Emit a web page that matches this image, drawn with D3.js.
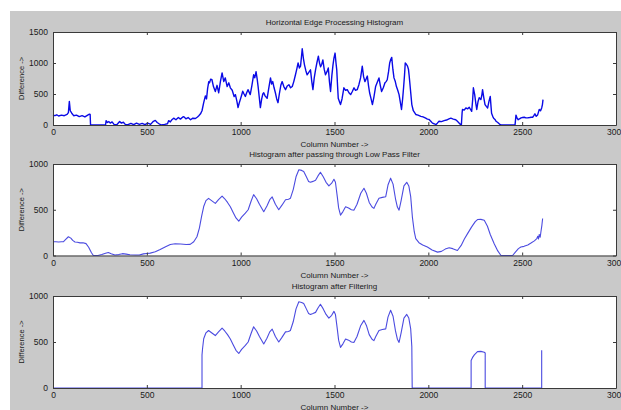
<!DOCTYPE html>
<html>
<head>
<meta charset="utf-8">
<script src="https://cdn.jsdelivr.net/npm/d3@7"></script>
<style>
  body { margin: 0; background: #fff; }
  svg text { font-family: "Liberation Sans", Arial, sans-serif; fill: #1a1a1a; }
</style>
</head>
<body>
<div id="chart"></div>
<script>
// column number, difference
const edgeHist = [[0,160],[10,150],[20,165],[30,145],[45,160],[60,150],[75,170],[82,200],[87,380],[92,230],[100,190],[110,150],[125,160],[140,135],[155,150],[170,130],[185,160],[194,175],[198,170],[200,0],[280,0],[283,70],[290,40],[298,55],[305,30],[315,50],[325,10],[340,5],[355,55],[365,30],[375,45],[385,10],[400,5],[415,25],[430,5],[445,30],[460,10],[475,25],[490,5],[505,30],[520,10],[535,60],[545,75],[555,40],[565,20],[578,0],[595,10],[610,20],[616,70],[625,50],[635,90],[643,110],[655,85],[668,120],[679,95],[690,125],[697,135],[708,100],[720,120],[733,85],[745,110],[759,105],[770,130],[777,150],[786,180],[794,230],[803,360],[812,470],[818,420],[824,590],[830,700],[834,680],[840,740],[847,730],[855,620],[865,540],[874,640],[883,520],[892,700],[901,840],[910,700],[918,760],[928,620],[937,680],[945,600],[955,560],[965,460],[972,490],[980,380],[986,280],[992,350],[998,410],[1005,480],[1011,545],[1018,500],[1025,460],[1032,520],[1039,570],[1045,530],[1051,490],[1060,640],[1069,810],[1075,760],[1082,860],[1088,740],[1093,620],[1100,420],[1105,280],[1112,420],[1118,500],[1123,520],[1130,470],[1141,430],[1150,600],[1159,760],[1165,660],[1171,700],[1178,600],[1185,520],[1192,420],[1199,360],[1207,520],[1214,640],[1221,700],[1230,620],[1239,570],[1248,630],[1257,650],[1266,600],[1275,620],[1283,700],[1292,810],[1299,900],[1306,1000],[1313,920],[1319,950],[1324,1100],[1328,1230],[1334,1080],[1340,970],[1347,880],[1354,810],[1363,850],[1372,890],[1379,700],[1385,570],[1392,760],[1399,890],[1406,1000],[1414,1110],[1420,1000],[1426,940],[1432,980],[1438,1050],[1445,900],[1452,810],[1460,860],[1467,920],[1473,700],[1479,540],[1486,800],[1492,970],[1497,1080],[1503,1160],[1508,1000],[1512,890],[1516,650],[1520,430],[1526,380],[1532,330],[1540,420],[1550,600],[1559,560],[1568,570],[1577,520],[1586,490],[1595,540],[1604,600],[1612,560],[1621,570],[1630,650],[1639,760],[1648,950],[1655,780],[1662,700],[1668,740],[1675,790],[1681,640],[1687,520],[1695,420],[1702,330],[1710,450],[1719,620],[1728,690],[1737,760],[1744,640],[1751,540],[1760,600],[1769,680],[1775,700],[1781,730],[1788,860],[1794,1000],[1800,1060],[1805,1090],[1811,900],[1817,760],[1824,700],[1830,620],[1837,560],[1844,490],[1850,380],[1857,250],[1863,420],[1868,600],[1873,800],[1877,1000],[1883,980],[1889,950],[1894,900],[1898,790],[1905,560],[1912,330],[1920,230],[1933,170],[1945,160],[1960,140],[1972,130],[1986,110],[1995,95],[2004,90],[2013,60],[2022,30],[2031,20],[2040,5],[2048,30],[2057,60],[2070,55],[2084,70],[2097,80],[2110,100],[2120,110],[2133,95],[2146,85],[2155,60],[2164,30],[2173,5],[2176,0],[2180,200],[2182,250],[2191,240],[2200,275],[2209,260],[2218,285],[2225,250],[2231,220],[2236,400],[2240,600],[2247,490],[2253,350],[2258,250],[2265,380],[2271,440],[2280,410],[2285,480],[2289,570],[2295,450],[2302,330],[2309,300],[2316,275],[2323,380],[2330,460],[2334,300],[2337,190],[2343,140],[2348,110],[2355,90],[2361,60],[2370,40],[2379,15],[2388,0],[2462,0],[2467,160],[2473,110],[2479,85],[2486,100],[2494,115],[2502,120],[2511,125],[2520,115],[2529,115],[2540,120],[2548,125],[2556,125],[2562,150],[2568,180],[2575,140],[2582,160],[2586,200],[2591,250],[2598,230],[2604,275],[2608,330],[2611,410]];

const lowPass = [[0,150],[15,150],[30,148],[45,150],[55,150],[65,170],[82,205],[95,190],[105,165],[117,148],[130,145],[144,138],[160,140],[176,130],[190,90],[205,30],[215,0],[240,0],[260,10],[280,25],[295,33],[310,20],[330,5],[350,10],[370,20],[390,15],[410,8],[440,5],[460,5],[482,18],[500,22],[518,26],[545,40],[571,65],[600,95],[625,120],[651,128],[680,125],[710,120],[731,122],[750,150],[767,205],[780,300],[792,430],[803,535],[815,600],[829,625],[845,600],[865,570],[882,610],[901,650],[915,620],[930,580],[945,533],[960,470],[975,410],[990,375],[1005,420],[1025,463],[1040,500],[1055,590],[1069,665],[1085,620],[1100,560],[1123,478],[1140,540],[1155,610],[1168,640],[1185,560],[1203,500],[1220,550],[1239,610],[1255,615],[1265,625],[1280,720],[1295,860],[1310,937],[1325,930],[1336,918],[1350,860],[1362,810],[1372,800],[1385,810],[1399,822],[1412,870],[1425,910],[1440,860],[1455,800],[1470,760],[1485,790],[1497,833],[1505,800],[1515,640],[1522,520],[1532,441],[1545,480],[1559,533],[1575,520],[1590,500],[1604,496],[1620,560],[1640,680],[1657,735],[1670,680],[1685,580],[1700,530],[1710,515],[1720,560],[1737,625],[1755,635],[1773,643],[1785,770],[1799,845],[1812,780],[1825,620],[1835,530],[1844,496],[1855,600],[1870,760],[1885,800],[1896,760],[1906,643],[1915,420],[1925,260],[1933,184],[1950,140],[1970,115],[1995,92],[2020,60],[2049,37],[2070,45],[2090,70],[2111,85],[2130,75],[2155,55],[2175,110],[2192,180],[2209,239],[2230,310],[2250,370],[2262,393],[2280,395],[2298,386],[2315,320],[2330,230],[2351,129],[2370,50],[2387,0],[2449,0],[2465,40],[2480,75],[2493,92],[2510,100],[2530,115],[2547,136],[2565,160],[2578,185],[2583,210],[2587,180],[2591,230],[2596,200],[2600,260],[2605,330],[2609,405]];

const filtered = [[0,0],[794,0],[794,360],[797,430],[803,535],[815,600],[829,625],[845,600],[865,570],[882,610],[901,650],[915,620],[930,580],[945,533],[960,470],[975,410],[990,375],[1005,420],[1025,463],[1040,500],[1055,590],[1069,665],[1085,620],[1100,560],[1123,478],[1140,540],[1155,610],[1168,640],[1185,560],[1203,500],[1220,550],[1239,610],[1255,615],[1265,625],[1280,720],[1295,860],[1310,937],[1325,930],[1336,918],[1350,860],[1362,810],[1372,800],[1385,810],[1399,822],[1412,870],[1425,910],[1440,860],[1455,800],[1470,760],[1485,790],[1497,833],[1505,800],[1515,640],[1522,520],[1532,441],[1545,480],[1559,533],[1575,520],[1590,500],[1604,496],[1620,560],[1640,680],[1657,735],[1670,680],[1685,580],[1700,530],[1710,515],[1720,560],[1737,625],[1755,635],[1773,643],[1785,770],[1799,845],[1812,780],[1825,620],[1835,530],[1844,496],[1855,600],[1870,760],[1885,800],[1896,760],[1906,643],[1912,450],[1914,0],[2228,0],[2228,300],[2235,330],[2245,360],[2262,395],[2280,398],[2298,388],[2303,380],[2303,0],[2604,0],[2604,410]];

const titles = ["Horizontal Edge Processing Histogram", "Histogram after passing through Low Pass Filter", "Histogram after Filtering"];
const xTicks = [0, 500, 1000, 1500, 2000, 2500, 3000];
const yTicksTop = [0, 500, 1000, 1500];
const yTicksLow = [0, 500, 1000];

const width = 621, height = 410;

const svg = d3.select("#chart")
  .append("svg")
  .attr("width", width)
  .attr("height", height);

// grey figure window
svg.append("rect")
  .attr("x", 10).attr("y", 11)
  .attr("width", width - 10).attr("height", height - 11)
  .attr("fill", "#c9c9c9");

const x = d3.scaleLinear().domain([0, 3000]).range([53, 616]);
const fmt = d3.format("d");

const panels = [
  { data: edgeHist, top: 32, bottom: 125, yMax: 1500, ticks: yTicksTop, color: "#0a0ae6", lw: 1.4 },
  { data: lowPass, top: 164, bottom: 255.5, yMax: 1000, ticks: yTicksLow, color: "#4b4be0", lw: 1.1 },
  { data: filtered, top: 296, bottom: 388, yMax: 1000, ticks: yTicksLow, color: "#4b4be0", lw: 1.1 }
];

panels.forEach((p, i) => {
  const y = d3.scaleLinear().domain([0, p.yMax]).range([p.bottom, p.top]);
  const g = svg.append("g");

  g.append("rect")
    .attr("x", x.range()[0]).attr("y", p.top)
    .attr("width", x.range()[1] - x.range()[0])
    .attr("height", p.bottom - p.top)
    .attr("fill", "#fff");

  const line = d3.line().x(d => x(d[0])).y(d => y(d[1]));
  g.append("path")
    .datum(p.data)
    .attr("fill", "none")
    .attr("stroke", p.color)
    .attr("stroke-width", p.lw)
    .attr("stroke-linejoin", "round")
    .attr("d", line);

  const xb = g.append("g")
    .attr("transform", `translate(0,${p.bottom})`)
    .call(d3.axisBottom(x).tickValues(xTicks).tickFormat(fmt).tickSize(-3).tickPadding(4).tickSizeOuter(0));
  const xt = g.append("g")
    .attr("transform", `translate(0,${p.top})`)
    .call(d3.axisTop(x).tickValues(xTicks).tickSize(-3).tickFormat("").tickSizeOuter(0));
  const yl = g.append("g")
    .attr("transform", `translate(${x.range()[0]},0)`)
    .call(d3.axisLeft(y).tickValues(p.ticks).tickFormat(fmt).tickSize(-3).tickPadding(5).tickSizeOuter(0));
  const yr = g.append("g")
    .attr("transform", `translate(${x.range()[1]},0)`)
    .call(d3.axisRight(y).tickValues(p.ticks).tickSize(-3).tickFormat("").tickSizeOuter(0));

  [xb, xt, yl, yr].forEach(a => {
    a.selectAll(".domain").attr("stroke", "#3a3a3a");
    a.selectAll(".tick line").attr("stroke", "#3a3a3a");
    a.selectAll("text").attr("font-size", 8.5).attr("fill", "#1a1a1a")
      .style("font-family", "'Liberation Sans', Arial, sans-serif");
  });

  g.append("text")
    .attr("x", (x.range()[0] + x.range()[1]) / 2)
    .attr("y", p.top - 7)
    .attr("text-anchor", "middle")
    .attr("font-size", 8)
    .text(titles[i]);

  g.append("text")
    .attr("x", (x.range()[0] + x.range()[1]) / 2)
    .attr("y", p.bottom + 22)
    .attr("text-anchor", "middle")
    .attr("font-size", 8)
    .text("Column Number ->");

  g.append("text")
    .attr("transform", `translate(24,${(p.top + p.bottom) / 2}) rotate(-90)`)
    .attr("text-anchor", "middle")
    .attr("font-size", 7.5)
    .text("Difference ->");
});
</script>
</body>
</html>
